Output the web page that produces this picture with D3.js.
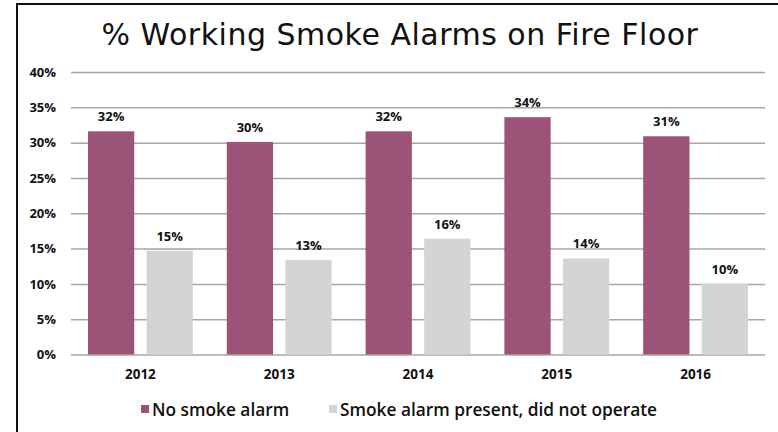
<!DOCTYPE html>
<html>
<head>
<meta charset="utf-8">
<script src="https://cdn.jsdelivr.net/npm/d3@7"></script>
<style>
  html, body { margin: 0; padding: 0; background: #fff; }
  svg { display: block; }
</style>
</head>
<body>
<svg id="chart" width="778" height="432"></svg>
<script>
// ---- data ----
const title = "% Working Smoke Alarms on Fire Floor";
const years = ["2012", "2013", "2014", "2015", "2016"];
const seriesNames = ["No smoke alarm", "Smoke alarm present, did not operate"];
const noAlarm = [31.6, 30.1, 31.6, 33.6, 30.9];
const didNotOperate = [14.7, 13.4, 16.4, 13.6, 10.0];
const yTicks = [0, 5, 10, 15, 20, 25, 30, 35, 40];
const colors = ["#9b5477", "#d3d4d6"];

const seriesValues = [noAlarm, didNotOperate];
const rows = years.map((y, i) => ({
  year: y,
  values: seriesNames.map((s, j) => ({ key: s, value: seriesValues[j][i] }))
}));

const svg = d3.select("#chart");

// frame
svg.append("line").attr("x1", 17).attr("x2", 17).attr("y1", 3).attr("y2", 432)
  .attr("stroke", "#111").attr("stroke-width", 2);
svg.append("line").attr("x1", 16).attr("x2", 778).attr("y1", 4).attr("y2", 4)
  .attr("stroke", "#111").attr("stroke-width", 2);

// title
svg.append("text")
  .attr("x", 400).attr("y", 45)
  .attr("text-anchor", "middle")
  .attr("font-family", "'DejaVu Sans', sans-serif")
  .attr("font-size", 30)
  .attr("letter-spacing", 0.5)
  .attr("fill", "#111")
  .text(title);

// scales
const x0 = d3.scaleBand().domain(years).range([71, 765]);
const x1 = d3.scaleBand().domain(seriesNames).range([0, x0.bandwidth()])
  .paddingInner(0.21).paddingOuter(0.29);
const y = d3.scaleLinear().domain([0, 40]).range([354.5, 72]);

// gridlines
const grid = svg.append("g")
  .attr("transform", "translate(71,0)")
  .call(d3.axisLeft(y).tickValues(yTicks).tickSize(-(765 - 71)).tickFormat(""));
grid.select(".domain").remove();
grid.selectAll(".tick line").attr("stroke", "#a6a6a6").attr("stroke-width", 1.5);

// y axis labels
const yAxis = svg.append("g").attr("transform", "translate(71,0)")
  .call(d3.axisLeft(y).tickValues(yTicks).tickSize(0).tickPadding(15).tickFormat(d => d + "%"));
yAxis.select(".domain").remove();
yAxis.selectAll("text")
  .attr("font-family", "'Open Sans', sans-serif")
  .attr("font-weight", 700)
  .attr("font-size", 13)
  .attr("fill", "#111");

// bars
const groups = svg.append("g").selectAll("g").data(rows).join("g")
  .attr("transform", d => `translate(${x0(d.year)},0)`);

groups.selectAll("rect").data(d => d.values).join("rect")
  .attr("x", d => x1(d.key))
  .attr("y", d => y(d.value))
  .attr("width", x1.bandwidth())
  .attr("height", d => y(0) - y(d.value))
  .attr("fill", (d, i) => colors[i]);

groups.selectAll("text.val").data(d => d.values).join("text")
  .attr("class", "val")
  .attr("x", d => x1(d.key) + x1.bandwidth() / 2)
  .attr("y", d => y(d.value) - 10)
  .attr("text-anchor", "middle")
  .attr("font-family", "'Open Sans', sans-serif")
  .attr("font-weight", 700)
  .attr("font-size", 13)
  .attr("fill", "#111")
  .text(d => d3.format(".0f")(d.value) + "%");

// x axis labels
const xAxis = svg.append("g").attr("transform", `translate(0,${y(0)})`)
  .call(d3.axisBottom(x0).tickSize(0).tickPadding(15));
xAxis.select(".domain").remove();
xAxis.selectAll("text")
  .attr("font-family", "'Open Sans', sans-serif")
  .attr("font-weight", 700)
  .attr("font-size", 13.5)
  .attr("fill", "#111");

// legend
const legendX = [141, 329];
const legend = svg.append("g").selectAll("g").data(seriesNames).join("g")
  .attr("transform", (d, i) => `translate(${legendX[i]},405)`);
legend.append("rect").attr("width", 8).attr("height", 8).attr("fill", (d, i) => colors[i]);
legend.append("text")
  .attr("x", 11).attr("y", 11)
  .attr("font-family", "'Open Sans', sans-serif")
  .attr("font-weight", 600)
  .attr("font-size", 17.3)
  .attr("fill", "#111")
  .text(d => d);
</script>
</body>
</html>
